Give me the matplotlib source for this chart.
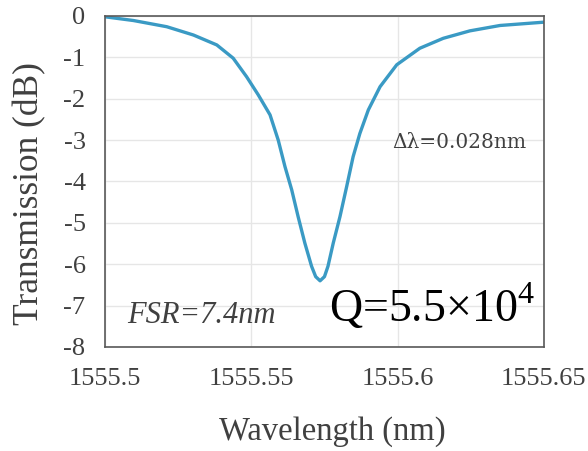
import matplotlib.pyplot as plt

plt.rcParams['font.family'] = 'Liberation Serif'
plt.rcParams['mathtext.fontset'] = 'custom'
plt.rcParams['mathtext.rm'] = 'Liberation Serif'
plt.rcParams['axes.unicode_minus'] = False

# Wavelength (nm) and transmission (dB)
wavelength = [1555.5000, 1555.5097, 1555.5211, 1555.5302, 1555.5382, 1555.5438,
              1555.5484, 1555.5524, 1555.5564, 1555.5592, 1555.5615, 1555.5638,
              1555.5660, 1555.5683, 1555.5706, 1555.5720, 1555.5735, 1555.5750,
              1555.5762, 1555.5780, 1555.5803, 1555.5826, 1555.5848, 1555.5871,
              1555.5900, 1555.5940, 1555.5997, 1555.6076, 1555.6156, 1555.6247,
              1555.6350, 1555.6500]
transmission = [-0.02, -0.11, -0.26, -0.46, -0.70, -1.02,
                -1.47, -1.91, -2.39, -3.00, -3.64, -4.20,
                -4.85, -5.49, -6.05, -6.30, -6.40, -6.30,
                -6.05, -5.49, -4.85, -4.12, -3.40, -2.84,
                -2.27, -1.71, -1.18, -0.78, -0.54, -0.36,
                -0.23, -0.15]

xticks = [1555.5, 1555.55, 1555.6, 1555.65]
xtick_labels = ['1555.5', '1555.55', '1555.6', '1555.65']
yticks = [0, -1, -2, -3, -4, -5, -6, -7, -8]

fig = plt.figure(figsize=(5.88, 4.51), dpi=100)
ax = fig.add_axes([0.1786, 0.2306, 0.7464, 0.734])

ax.plot(wavelength, transmission, color='#3a9ac4', linewidth=2.4,
        solid_joinstyle='round')

ax.set_xlim(1555.5, 1555.65)
ax.set_ylim(-8, 0)
ax.set_xticks(xticks)
ax.set_xticklabels(xtick_labels)
ax.set_yticks(yticks)
ax.tick_params(length=0, labelsize=19, labelcolor='#404040')
ax.tick_params(axis='x', pad=15)
ax.tick_params(axis='y', pad=14)
ax.grid(True, color='#e6e6e6', linewidth=1)
ax.set_axisbelow(True)
for s in ax.spines.values():
    s.set_color('#595959')
    s.set_linewidth(1.2)

ax.set_xlabel('Wavelength (nm)', fontsize=23.5, color='#404040')
ax.set_ylabel('Transmission (dB)', fontsize=25.5, color='#404040')
ax.xaxis.set_label_coords(0.517, -0.208)
ax.yaxis.set_label_coords(-0.134, 0.465)

ax.text(0.655, 0.6, 'Δλ=0.028nm', transform=ax.transAxes, fontsize=14.5,
        color='#404040', family='DejaVu Serif')
ax.text(0.05, 0.072, 'FSR=7.4nm', transform=ax.transAxes, fontsize=22,
        color='#404040', style='italic')
ax.text(0.51, 0.075, 'Q=5.5×10$^{4}$', transform=ax.transAxes, fontsize=33,
        color='black')

fig.savefig('out.png', dpi=100)
